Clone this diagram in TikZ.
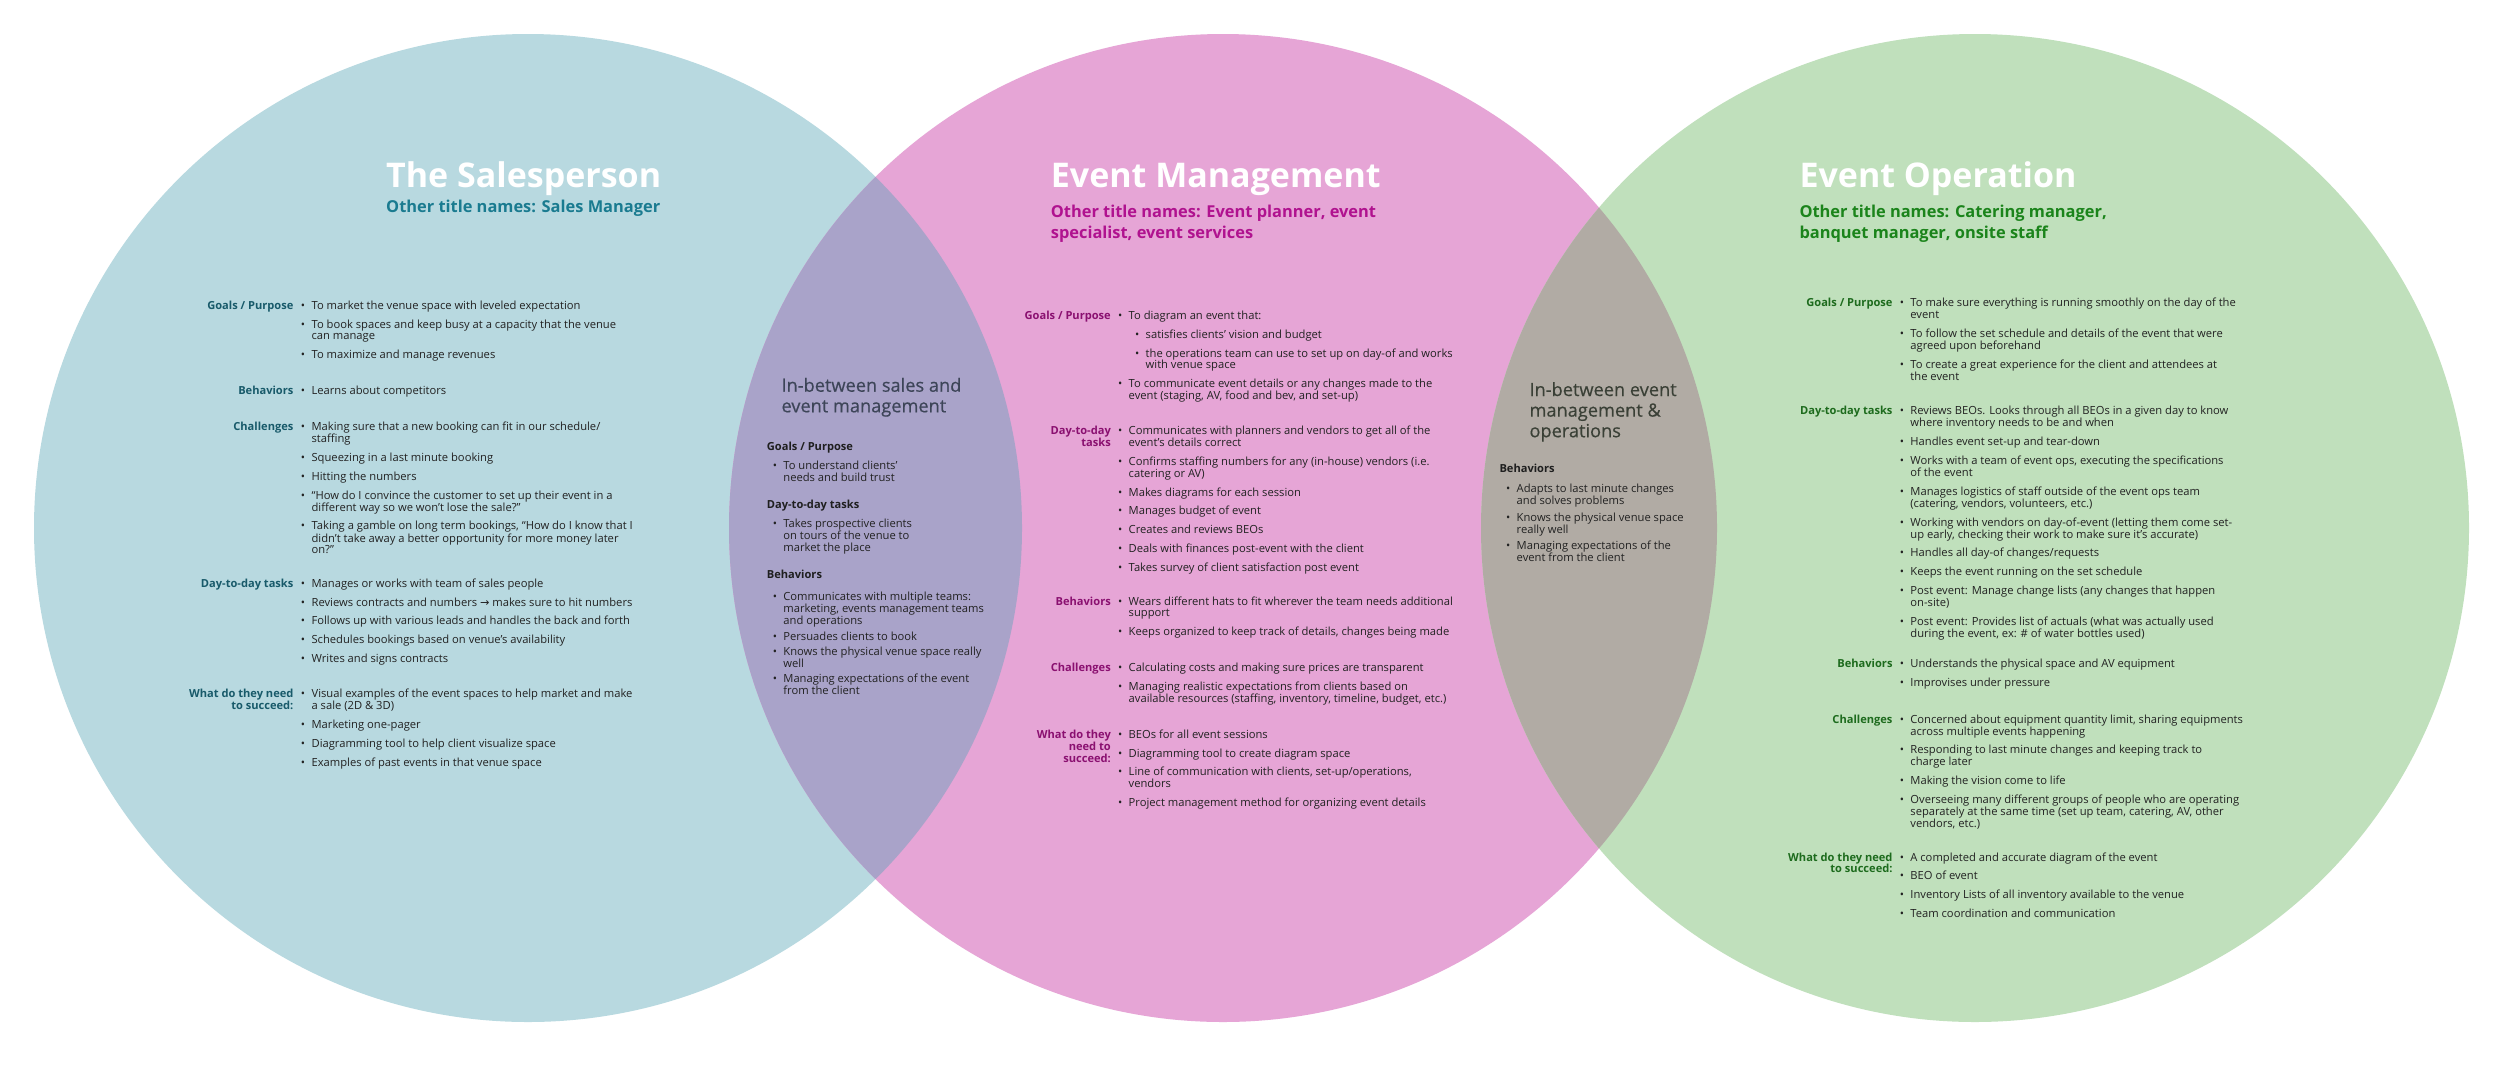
\documentclass[tikz,border=0pt]{standalone}
\usepackage{fontspec}
\setmainfont{Open Sans}
\newfontfamily\arrowfont{DejaVu Sans}
\newfontfamily\mediumfont{Open Sans}[FakeBold=0.45]
\usepackage{xcolor}
\usetikzlibrary{positioning}
\definecolor{salesfill}{HTML}{B8D9E0}
\definecolor{eventfill}{HTML}{E6A5D6}
\definecolor{opsfill}{HTML}{C0E0BC}
\definecolor{salesevent}{HTML}{A9A3C9}
\definecolor{eventops}{HTML}{B1ABA4}
\definecolor{salesdark}{HTML}{185A6A}
\definecolor{salessub}{HTML}{1A7B90}
\definecolor{eventdark}{HTML}{8A1070}
\definecolor{eventsub}{HTML}{B0128F}
\definecolor{opsdark}{HTML}{1D6B1D}
\definecolor{opssub}{HTML}{1B841B}
\definecolor{bodytext}{HTML}{222222}
\definecolor{mixsales}{HTML}{3D4558}
\definecolor{mixops}{HTML}{3A4036}
\newcommand{\vbul}{\makebox[0pt]{\textbullet}\hspace*{8.5pt}}
\newcommand{\vind}{\hspace*{8.5pt}}
\newcommand{\vgap}{6.8pt}
\newcommand{\vlist}[1]{\begin{tabular}[t]{@{}l@{}}#1\end{tabular}}
\newcommand{\vhead}[1]{\begin{tabular}[t]{@{}r@{}}#1\end{tabular}}

\begin{document}
\begin{tikzpicture}[x=1pt, y=-1pt,
    circtitle/.style={font=\fontsize{34}{40}\selectfont\bfseries, text=white, anchor=base west, inner sep=0pt},
    subtitle/.style={font=\fontsize{16.4}{20.7}\selectfont\bfseries, anchor=base west, inner sep=0pt},
    heading/.style={font=\fontsize{11.1}{11.6}\selectfont\bfseries, anchor=base east, inner sep=0pt},
    itemlist/.style={font=\fontsize{11.2}{11.6}\selectfont, text=bodytext, anchor=base west, inner sep=0pt},
    mixtitle/.style={font=\fontsize{18.2}{20.6}\selectfont\mediumfont, anchor=base west, inner sep=0pt},
    mixhead/.style={font=\fontsize{11.1}{11.6}\selectfont\bfseries, text=black!88, anchor=base west, inner sep=0pt}]
    \useasboundingbox (0,0) rectangle (2500,1077);
    \fill[white] (0,0) rectangle (2500,1077);

    % Three circles
    \coordinate (csales) at (528,528);
    \coordinate (cevent) at (1223,528);
    \coordinate (cops) at (1975,528);
    \fill[salesfill] (csales) circle (494pt);
    \fill[eventfill] (cevent) circle (494pt);
    \fill[opsfill] (cops) circle (494pt);
    % Overlaps
    \begin{scope}
        \clip (csales) circle (494pt);
        \fill[salesevent] (cevent) circle (494pt);
    \end{scope}
    \begin{scope}
        \clip (cops) circle (494pt);
        \fill[eventops] (cevent) circle (494pt);
    \end{scope}

    % The Salesperson
    \node[circtitle] (salestitle) at (386,187) {The Salesperson};
    \node[subtitle, text=salessub] (salesalt) at (386,212.3) {Other title names: Sales Manager};
    \node[heading, text=salesdark] (sgoalsh) at (293.6,309.3) {\vhead{Goals / Purpose}};
    \node[itemlist] (sgoals) at (302.9,309.3) {\vlist{%
        \vbul To market the venue space with leveled expectation\\[\vgap]
        \vbul To book spaces and keep busy at a capacity that the venue\\
        \vind can manage\\[\vgap]
        \vbul To maximize and manage revenues}};
    \node[heading, text=salesdark] (sbehavh) at (293.6,394) {\vhead{Behaviors}};
    \node[itemlist] (sbehav) at (302.9,394) {\vlist{\vbul Learns about competitors}};
    \node[heading, text=salesdark] (schallh) at (293.6,430.7) {\vhead{Challenges}};
    \node[itemlist] (schall) at (302.9,430.7) {\vlist{%
        \vbul Making sure that a new booking can fit in our schedule/\\
        \vind staffing\\[\vgap]
        \vbul Squeezing in a last minute booking\\[\vgap]
        \vbul Hitting the numbers\\[\vgap]
        \vbul “How do I convince the customer to set up their event in a\\
        \vind different way so we won’t lose the sale?”\\[\vgap]
        \vbul Taking a gamble on long term bookings, “How do I know that I\\
        \vind didn’t take away a better opportunity for more money later\\
        \vind on?”}};
    \node[heading, text=salesdark] (staskh) at (293.6,587.3) {\vhead{Day-to-day tasks}};
    \node[itemlist] (stask) at (302.9,587.3) {\vlist{%
        \vbul Manages or works with team of sales people\\[\vgap]
        \vbul Reviews contracts and numbers {\arrowfont →} makes sure to hit numbers\\[\vgap]
        \vbul Follows up with various leads and handles the back and forth\\[\vgap]
        \vbul Schedules bookings based on venue’s availability\\[\vgap]
        \vbul Writes and signs contracts}};
    \node[heading, text=salesdark] (sneedh) at (293.6,697.7) {\vhead{What do they need\\to succeed:}};
    \node[itemlist] (sneed) at (302.9,697.7) {\vlist{%
        \vbul Visual examples of the event spaces to help market and make\\
        \vind a sale (2D \& 3D)\\[\vgap]
        \vbul Marketing one-pager\\[\vgap]
        \vbul Diagramming tool to help client visualize space\\[\vgap]
        \vbul Examples of past events in that venue space}};

    % In-between sales and event management
    \node[mixtitle, text=mixsales] (mixsalestitle) at (781.3,391.7) {\vlist{In-between sales and\\event management}};
    \node[mixhead] (mgoalsh) at (766.7,450.7) {Goals / Purpose};
    \node[itemlist] (mgoals) at (774.7,469.3) {\vlist{%
        \vbul To understand clients’\\
        \vind needs and build trust}};
    \node[mixhead] (mtaskh) at (766.7,508.7) {Day-to-day tasks};
    \node[itemlist] (mtask) at (774.7,527.3) {\vlist{%
        \vbul Takes prospective clients\\
        \vind on tours of the venue to\\
        \vind market the place}};
    \node[mixhead] (mbehavh) at (766.7,578) {Behaviors};
    \node[itemlist] (mbehav) at (774.7,600.7) {\vlist{%
        \vbul Communicates with multiple teams:\\
        \vind marketing, events management teams\\
        \vind and operations\\[3.4pt]
        \vbul Persuades clients to book\\[3.4pt]
        \vbul Knows the physical venue space really\\
        \vind well\\[3.4pt]
        \vbul Managing expectations of the event\\
        \vind from the client}};

    % Event Management
    \node[circtitle] (eventtitle) at (1050.7,187) {Event Management};
    \node[subtitle, text=eventsub] (eventalt) at (1050.7,217.3) {\vlist{Other title names: Event planner, event\\specialist, event services}};
    \node[heading, text=eventdark] (egoalsh) at (1111,319.3) {\vhead{Goals / Purpose}};
    \node[itemlist] (egoals) at (1120,319.3) {\vlist{%
        \vbul To diagram an event that:\\[\vgap]
        \vind\vind\vbul satisfies clients’ vision and budget\\[\vgap]
        \vind\vind\vbul the operations team can use to set up on day-of and works\\
        \vind\vind\vind with venue space\\[\vgap]
        \vbul To communicate event details or any changes made to the\\
        \vind event (staging, AV, food and bev, and set-up)}};
    \node[heading, text=eventdark] (etaskh) at (1111,434.7) {\vhead{Day-to-day\\tasks}};
    \node[itemlist] (etask) at (1120,434.7) {\vlist{%
        \vbul Communicates with planners and vendors to get all of the\\
        \vind event’s details correct\\[\vgap]
        \vbul Confirms staffing numbers for any (in-house) vendors (i.e.\\
        \vind catering or AV)\\[\vgap]
        \vbul Makes diagrams for each session\\[\vgap]
        \vbul Manages budget of event\\[\vgap]
        \vbul Creates and reviews BEOs\\[\vgap]
        \vbul Deals with finances post-event with the client\\[\vgap]
        \vbul Takes survey of client satisfaction post event}};
    \node[heading, text=eventdark] (ebehavh) at (1111,605) {\vhead{Behaviors}};
    \node[itemlist] (ebehav) at (1120,605) {\vlist{%
        \vbul Wears different hats to fit wherever the team needs additional\\
        \vind support\\[\vgap]
        \vbul Keeps organized to keep track of details, changes being made}};
    \node[heading, text=eventdark] (echallh) at (1111,671.7) {\vhead{Challenges}};
    \node[itemlist] (echall) at (1120,671.7) {\vlist{%
        \vbul Calculating costs and making sure prices are transparent\\[\vgap]
        \vbul Managing realistic expectations from clients based on\\
        \vind available resources (staffing, inventory, timeline, budget, etc.)}};
    \node[heading, text=eventdark] (eneedh) at (1111,738.3) {\vhead{What do they\\need to\\succeed:}};
    \node[itemlist] (eneed) at (1120,738.3) {\vlist{%
        \vbul BEOs for all event sessions\\[\vgap]
        \vbul Diagramming tool to create diagram space\\[\vgap]
        \vbul Line of communication with clients, set-up/operations,\\
        \vind vendors\\[\vgap]
        \vbul Project management method for organizing event details}};

    % In-between event management and operations
    \node[mixtitle, text=mixops] (mixopstitle) at (1529.3,396) {\vlist{In-between event\\management \&\\operations}};
    \node[mixhead] (obehavh) at (1499.3,472.3) {Behaviors};
    \node[itemlist] (obehav) at (1508,492.3) {\vlist{%
        \vbul Adapts to last minute changes\\
        \vind and solves problems\\[4.8pt]
        \vbul Knows the physical venue space\\
        \vind really well\\[4.8pt]
        \vbul Managing expectations of the\\
        \vind event from the client}};

    % Event Operation
    \node[circtitle] (opstitle) at (1799.3,187) {Event Operation};
    \node[subtitle, text=opssub] (opsalt) at (1799.3,217.3) {\vlist{Other title names: Catering manager,\\banquet manager, onsite staff}};
    \node[heading, text=opsdark] (rgoalsh) at (1892.7,306.7) {\vhead{Goals / Purpose}};
    \node[itemlist] (rgoals) at (1901.7,306.7) {\vlist{%
        \vbul To make sure everything is running smoothly on the day of the\\
        \vind event\\[\vgap]
        \vbul To follow the set schedule and details of the event that were\\
        \vind agreed upon beforehand\\[\vgap]
        \vbul To create a great experience for the client and attendees at\\
        \vind the event}};
    \node[heading, text=opsdark] (rtaskh) at (1892.7,414.7) {\vhead{Day-to-day tasks}};
    \node[itemlist] (rtask) at (1901.7,414.7) {\vlist{%
        \vbul Reviews BEOs. Looks through all BEOs in a given day to know\\
        \vind where inventory needs to be and when\\[\vgap]
        \vbul Handles event set-up and tear-down\\[\vgap]
        \vbul Works with a team of event ops, executing the specifications\\
        \vind of the event\\[\vgap]
        \vbul Manages logistics of staff outside of the event ops team\\
        \vind (catering, vendors, volunteers, etc.)\\[\vgap]
        \vbul Working with vendors on day-of-event (letting them come set-\\
        \vind up early, checking their work to make sure it’s accurate)\\[\vgap]
        \vbul Handles all day-of changes/requests\\[\vgap]
        \vbul Keeps the event running on the set schedule\\[\vgap]
        \vbul Post event: Manage change lists (any changes that happen\\
        \vind on-site)\\[\vgap]
        \vbul Post event: Provides list of actuals (what was actually used\\
        \vind during the event, ex: \# of water bottles used)}};
    \node[heading, text=opsdark] (rbehavh) at (1892.7,667.7) {\vhead{Behaviors}};
    \node[itemlist] (rbehav) at (1901.7,667.7) {\vlist{%
        \vbul Understands the physical space and AV equipment\\[\vgap]
        \vbul Improvises under pressure}};
    \node[heading, text=opsdark] (rchallh) at (1892.7,723) {\vhead{Challenges}};
    \node[itemlist] (rchall) at (1901.7,723) {\vlist{%
        \vbul Concerned about equipment quantity limit, sharing equipments\\
        \vind across multiple events happening\\[\vgap]
        \vbul Responding to last minute changes and keeping track to\\
        \vind charge later\\[\vgap]
        \vbul Making the vision come to life\\[\vgap]
        \vbul Overseeing many different groups of people who are operating\\
        \vind separately at the same time (set up team, catering, AV, other\\
        \vind vendors, etc.)}};
    \node[heading, text=opsdark] (rneedh) at (1892.7,861) {\vhead{What do they need\\to succeed:}};
    \node[itemlist] (rneed) at (1901.7,861) {\vlist{%
        \vbul A completed and accurate diagram of the event\\[\vgap]
        \vbul BEO of event\\[\vgap]
        \vbul Inventory Lists of all inventory available to the venue\\[\vgap]
        \vbul Team coordination and communication}};
\end{tikzpicture}
\end{document}
